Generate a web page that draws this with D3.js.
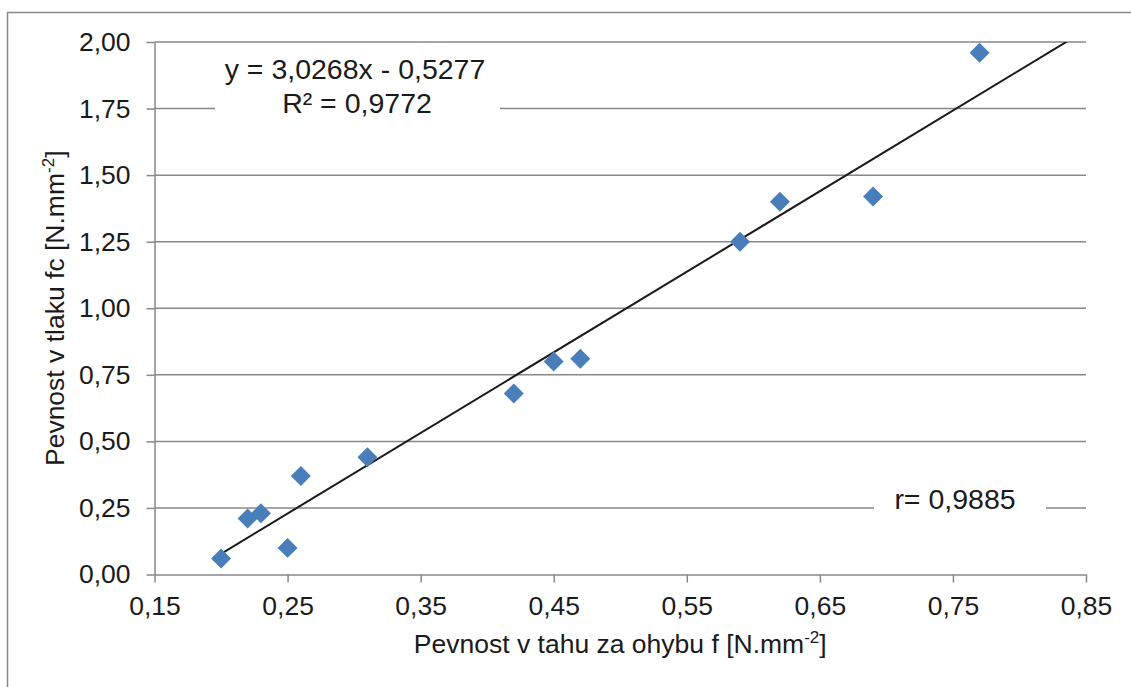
<!DOCTYPE html>
<html>
<head>
<meta charset="utf-8">
<script src="https://cdn.jsdelivr.net/npm/d3@7"></script>
<style>
  html, body { margin: 0; padding: 0; background: #fff; }
  svg { display: block; font-family: "Liberation Sans", Arial, sans-serif; }
</style>
</head>
<body>
<svg id="chart" width="1131" height="687"></svg>
<script>
// Flexural tensile strength vs. compressive strength
const tensile = [0.20, 0.22, 0.23, 0.25, 0.26, 0.31, 0.42, 0.45, 0.47, 0.59, 0.62, 0.69, 0.77];
const compressive = [0.06, 0.21, 0.23, 0.10, 0.37, 0.44, 0.68, 0.80, 0.81, 1.25, 1.40, 1.42, 1.96];
const xTicks = [0.15, 0.25, 0.35, 0.45, 0.55, 0.65, 0.75, 0.85];
const yTicks = [0.00, 0.25, 0.50, 0.75, 1.00, 1.25, 1.50, 1.75, 2.00];
const slope = 3.0268, intercept = -0.5277;
const trendRange = [0.20, 0.85];
const eqText = "y = 3,0268x - 0,5277";
const r2Text = "R² = 0,9772";
const rText = "r= 0,9885";

const svg = d3.select("#chart");
const gridColor = "#888888";
const textColor = "#1a1a1a";
const fontSize = 26.5;
const annFontSize = 28.5;
const fmt = v => d3.format(".2f")(v).replace(".", ",");

// outer chart frame
svg.append("rect")
  .attr("x", 7.5).attr("y", 12.5)
  .attr("width", 1200).attr("height", 800)
  .attr("fill", "none").attr("stroke", gridColor).attr("stroke-width", 1.5);

const plotLeft = 154.5, plotRight = 1086, plotTop = 42, plotBottom = 574.5;
const x = d3.scaleLinear().domain([0.15, 0.85]).range([plotLeft, plotRight]);
const y = d3.scaleLinear().domain([0, 2]).range([plotBottom, plotTop]);

// horizontal gridlines
svg.append("g").selectAll("line")
  .data(yTicks.filter(d => d > 0))
  .join("line")
  .attr("x1", plotLeft).attr("x2", plotRight)
  .attr("y1", d => y(d)).attr("y2", d => y(d))
  .attr("stroke", gridColor).attr("stroke-width", 1.5);

// axes
const xAxis = svg.append("g")
  .attr("transform", `translate(0,${plotBottom})`)
  .call(d3.axisBottom(x).tickValues(xTicks).tickFormat(fmt).tickSize(8).tickSizeOuter(0).tickPadding(14));
const yAxis = svg.append("g")
  .attr("transform", `translate(${plotLeft},0)`)
  .call(d3.axisLeft(y).tickValues(yTicks).tickFormat(fmt).tickSize(8).tickSizeOuter(0).tickPadding(16));
[xAxis, yAxis].forEach(g => {
  g.select(".domain").attr("stroke", gridColor).attr("stroke-width", 1.5);
  g.selectAll(".tick line").attr("stroke", gridColor).attr("stroke-width", 1.5);
  g.selectAll(".tick text")
    .attr("fill", textColor).style("font-size", fontSize + "px")
    .style("font-family", "'Liberation Sans', Arial, sans-serif");
});

// annotation boxes (mask gridlines behind the text)
svg.append("rect").attr("x", 215).attr("y", 52).attr("width", 285).attr("height", 72).attr("fill", "#fff");
svg.append("rect").attr("x", 874).attr("y", 484).attr("width", 172).attr("height", 36).attr("fill", "#fff");

// trendline, clipped to the plot area
svg.append("clipPath").attr("id", "plotClip")
  .append("rect").attr("x", plotLeft).attr("y", plotTop)
  .attr("width", plotRight - plotLeft).attr("height", plotBottom - plotTop);
svg.append("line")
  .attr("clip-path", "url(#plotClip)")
  .attr("x1", x(trendRange[0])).attr("y1", y(slope * trendRange[0] + intercept))
  .attr("x2", x(trendRange[1])).attr("y2", y(slope * trendRange[1] + intercept))
  .attr("stroke", "#1a1a1a").attr("stroke-width", 2);

// data markers (squares turned 45° to form diamonds)
const points = tensile.map((t, i) => ({ t, c: compressive[i] }));
svg.append("g").selectAll("path")
  .data(points)
  .join("path")
  .attr("d", d3.symbol(d3.symbolSquare, 200))
  .attr("transform", d => `translate(${x(d.t)},${y(d.c)}) rotate(45)`)
  .attr("fill", "#4A7EBB");

// annotation texts
const ann = svg.append("g").attr("fill", textColor).style("font-size", annFontSize + "px").attr("text-anchor", "middle");
ann.append("text").attr("x", 355).attr("y", 79).text(eqText);
ann.append("text").attr("x", 357).attr("y", 113).text(r2Text);
ann.append("text").attr("x", 955).attr("y", 509).text(rText);

// axis titles
svg.append("text")
  .attr("x", (plotLeft + plotRight) / 2).attr("y", 653)
  .attr("text-anchor", "middle").attr("fill", textColor).style("font-size", fontSize + "px")
  .call(t => {
    t.append("tspan").text("Pevnost v tahu za ohybu f [N.mm");
    t.append("tspan").attr("dy", -10).style("font-size", "17px").text("-2");
    t.append("tspan").attr("dy", 10).text("]");
  });
svg.append("text")
  .attr("transform", `translate(64,${(plotTop + plotBottom) / 2}) rotate(-90)`)
  .attr("text-anchor", "middle").attr("fill", textColor).style("font-size", fontSize + "px")
  .call(t => {
    t.append("tspan").text("Pevnost v tlaku fc [N.mm");
    t.append("tspan").attr("dy", -10).style("font-size", "17px").text("-2");
    t.append("tspan").attr("dy", 10).text("]");
  });
</script>
</body>
</html>
